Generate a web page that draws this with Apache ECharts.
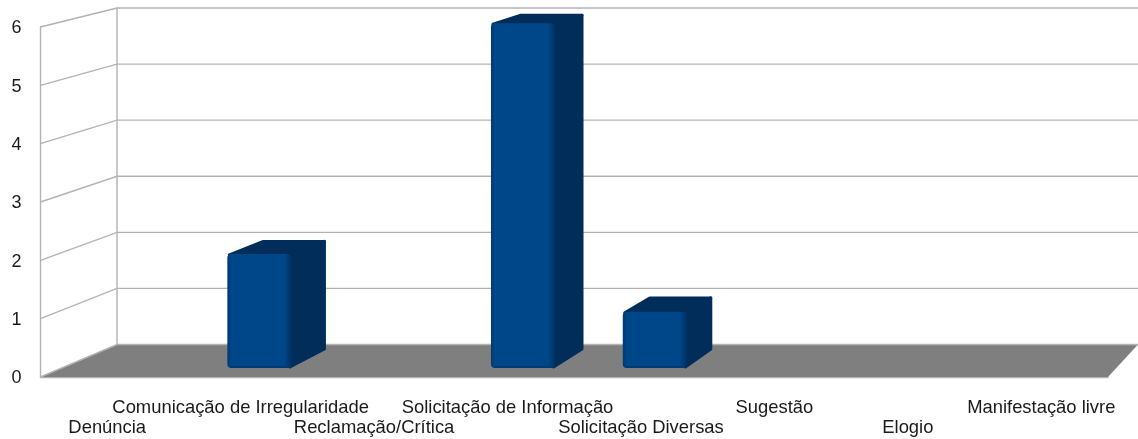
<!DOCTYPE html>
<html>
<head>
<meta charset="utf-8">
<style>html,body{margin:0;padding:0;background:#fff}#main{width:1138px;height:439px}</style>
<script src="https://cdn.jsdelivr.net/npm/echarts@6/dist/echarts.min.js"></script>
</head>
<body>
<div id="main"></div>
<script>
var categories = ['Denúncia', 'Comunicação de Irregularidade', 'Reclamação/Crítica', 'Solicitação de Informação', 'Solicitação Diversas', 'Sugestão', 'Elogio', 'Manifestação livre'];
var values = [0, 2, 0, 6, 1, 0, 0, 0];
var yTicks = [0, 1, 2, 3, 4, 5, 6];

var lineColor = '#b3b3b3';
var front = { left: 40.5, top: 27, width: 1067.5, height: 350 };
var back = { left: 117, top: 8, width: 1021, height: 336.5 };
var barRatio = 0.49, barNear = 0.28, barFar = 0.8;

// depth: t=0 is the front plane (the grid), t=1 the back wall
function project(p, t) {
    var bx = back.left + (p[0] - front.left) * back.width / front.width;
    var by = back.top + (p[1] - front.top) * back.height / front.height;
    return [p[0] + (bx - p[0]) * t, p[1] + (by - p[1]) * t];
}

function renderFloor(params, api) {
    var l = api.coord([0, 0]);
    var r = front.left + front.width;
    var a = [front.left, l[1]], b = [r, l[1]];
    return {
        type: 'polygon',
        shape: { points: [a, b, project(b, 1), project(a, 1)] },
        style: { fill: '#7f7f7f' },
        silent: true
    };
}

function renderWall(params, api) {
    var y = api.coord([0, api.value(0)])[1];
    var a = [front.left, y], b = [front.left + front.width, y];
    return {
        type: 'polyline',
        shape: { points: [a, project(a, 1), project(b, 1)] },
        style: { stroke: lineColor, lineWidth: 1.4, fill: null },
        silent: true
    };
}

function renderBackEdge(params, api) {
    var p0 = [front.left, api.coord([0, 0])[1]];
    var p6 = [front.left, api.coord([0, 6])[1]];
    return {
        type: 'line',
        shape: { x1: project(p0, 1)[0], y1: project(p0, 1)[1], x2: project(p6, 1)[0], y2: project(p6, 1)[1] },
        style: { stroke: lineColor, lineWidth: 1.4 },
        silent: true
    };
}

function renderBar(params, api) {
    var v = api.value(1);
    if (!v) return null;
    var c = api.coord([api.value(0), v]);
    var y0 = api.coord([api.value(0), 0])[1];
    var w = api.size([1, 0])[0] * barRatio;
    var top = c[1] + 1.5;
    var tl = [c[0] - w / 2, top], tr = [c[0] + w / 2, top];
    var bl = [c[0] - w / 2, y0], br = [c[0] + w / 2, y0];
    var a = project(tl, barNear), b = project(tr, barNear);
    var d = project(br, barNear);
    var bFar = project(tr, barFar), aFar = project(tl, barFar), dFar = project(br, barFar);
    var dark = '#002d5a';
    // faces are pulled in by a pixel, the round-joined stroke gives the soft corners
    var sb = [b[0] - 2, b[1] + 1], sbFar = [bFar[0] - 2, bFar[1] + 2], sdFar = [dFar[0] - 2, dFar[1] - 2], sd = [d[0] - 2, d[1] - 1];
    return {
        type: 'group',
        silent: true,
        children: [{
            type: 'polygon',
            shape: { points: [sb, sbFar, sdFar, sd] },
            style: { fill: dark, stroke: dark, lineWidth: 3, lineJoin: 'round' }
        }, {
            type: 'polygon',
            shape: { points: [[a[0] + 2, a[1] + 1], [aFar[0], aFar[1] + 2], sbFar, sb] },
            style: { fill: dark, stroke: dark, lineWidth: 3, lineJoin: 'round' }
        }, {
            type: 'rect',
            shape: { x: a[0], y: a[1], width: b[0] - a[0], height: d[1] - a[1], r: 4 },
            style: {
                fill: new echarts.graphic.LinearGradient(0, 0, 1, 0, [
                    { offset: 0, color: '#003a72' },
                    { offset: 0.07, color: '#00478a' },
                    { offset: 0.88, color: '#00478a' },
                    { offset: 1, color: '#002f5e' }
                ])
            }
        }, {
            type: 'rect',
            shape: { x: a[0] + 3, y: d[1] - 2, width: b[0] - a[0] - 6, height: 2 },
            style: { fill: '#003a72' }
        }]
    };
}

var myChart = echarts.init(document.getElementById('main'), null, { renderer: 'canvas' });
var option = {
    animation: false,
    textStyle: { fontFamily: 'Liberation Sans' },
    grid: { left: front.left, top: front.top, width: front.width, height: front.height },
    xAxis: {
        type: 'category',
        data: categories,
        axisTick: { show: false },
        axisLine: { lineStyle: { color: lineColor, width: 1.4 } },
        axisLabel: {
            interval: 0,
            margin: 21,
            color: '#1a1a1a',
            fontSize: 18.4,
            lineHeight: 20,
            hideOverlap: false,
            // two rows, every other label on the lower one
            formatter: function (name, i) {
                return i % 2 === 0 ? '\n' + name : name;
            }
        }
    },
    yAxis: {
        type: 'value',
        min: 0,
        max: 6,
        interval: 1,
        splitLine: { show: false },
        axisTick: { show: false },
        axisLine: { show: true, lineStyle: { color: lineColor, width: 1.4 } },
        axisLabel: {
            margin: 19,
            formatter: '{n|{value}}',
            // top padding nudges the digits down to where the reference has them
            rich: { n: { color: '#1a1a1a', fontSize: 18, padding: [3, 0, 0, 0] } }
        }
    },
    series: [
        { type: 'custom', renderItem: renderFloor, data: [0], z: 1 },
        { type: 'custom', renderItem: renderWall, data: yTicks, encode: { y: 0 }, z: 2 },
        { type: 'custom', renderItem: renderBackEdge, data: [0], z: 2 },
        {
            type: 'custom',
            renderItem: renderBar,
            data: values.map(function (v, i) { return [i, v]; }),
            encode: { x: 0, y: 1 },
            z: 3
        }
    ]
};
myChart.setOption(option);
</script>
</body>
</html>
